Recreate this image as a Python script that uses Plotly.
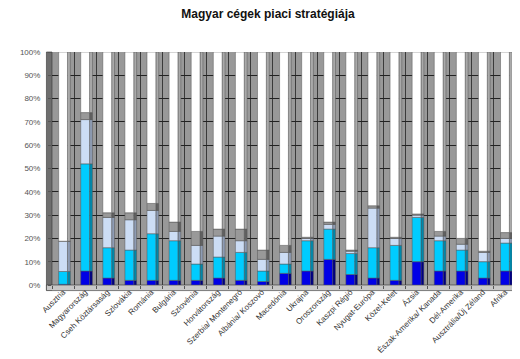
import plotly.graph_objects as go

categories = ["Ausztria", "Magyarország", "Cseh Köztársaság", "Szlovákia", "Románia",
              "Bulgária", "Szlovénia", "Horvátország", "Szerbia/ Montenegró",
              "Albánia/ Koszovó", "Macedónia", "Ukrajna", "Oroszország", "Kaszpi Régió",
              "Nyugat-Európa", "Közel-Kelet", "Ázsia", "Észak-Amerika/ Kanada",
              "Dél-Amerika", "Ausztrália/Új Zéland", "Afrika"]

s_dark  = [0.3, 6, 3, 2, 2, 2, 2, 3, 2, 1.5, 5, 6, 11, 4.5, 3, 2, 10, 6, 6, 3, 6]
s_cyan  = [5.5, 46, 13, 13, 20, 17, 7, 9, 12, 4.5, 4, 13, 13, 9, 13, 15, 19, 13, 9, 7, 12]
s_light = [13, 19, 13, 13, 10, 4, 8, 9, 5, 5, 5, 1, 2, 1, 17, 3, 1, 2, 2.5, 4, 2]
s_gray  = [0, 3, 2, 3, 3, 4, 6, 3, 5, 4, 3, 0.5, 1, 0.5, 1, 0.5, 0.5, 2, 2.5, 0.5, 2.5]
s_white = [81.2, 26, 69, 69, 65, 73, 77, 76, 76, 85, 83, 79.5, 73, 85, 66, 79.5, 69.5, 77, 80, 85.5, 77.5]

y_ticks = [0, 10, 20, 30, 40, 50, 60, 70, 80, 90, 100]
y_tick_labels = ["0%", "10%", "20%", "30%", "40%", "50%", "60%", "70%", "80%", "90%", "100%"]

series = [s_dark, s_cyan, s_light, s_gray, s_white]
front_cols = ["#0000E6", "#00CCFF", "#CCDDF5", "#999999", "#FFFFFF"]
side_cols = ["#000080", "#0088AA", "#8E9CB4", "#606060", "#AAAAAA"]

bases = []
acc = [0.0] * len(categories)
for vals in series:
    bases.append(list(acc))
    acc = [p + v for p, v in zip(acc, vals)]

fig = go.Figure()
for vals, b, sc in zip(series, bases, side_cols):
    fig.add_trace(go.Bar(x=categories, y=vals, base=b,
                         marker=dict(color=sc, line=dict(color="#555555", width=0.5)),
                         width=0.13, offset=0.2, showlegend=False, hoverinfo="skip"))
for vals, b, fc in zip(series, bases, front_cols):
    fig.add_trace(go.Bar(x=categories, y=vals, base=b,
                         marker=dict(color=fc, line=dict(color="#555555", width=0.5)),
                         width=0.4, offset=-0.2, showlegend=False, hoverinfo="skip"))

fig.update_layout(
    width=520, height=359,
    barmode="overlay",
    paper_bgcolor="white",
    plot_bgcolor="#999999",
    margin=dict(l=41, r=12, t=44, b=73),
    font=dict(family="Liberation Sans, Arial, sans-serif", size=8, color="#333333"),
    title=dict(text="<b>Magyar cégek piaci stratégiája</b>", x=0.5, xanchor="center", y=0.995, yanchor="top",
               font=dict(size=12, color="#111111")),
    xaxis=dict(tickangle=-45, tickson="boundaries", showgrid=True, gridcolor="#3a3a3a", gridwidth=1,
               ticks="outside", ticklen=3, tickcolor="#555555", showline=False,
               tickfont=dict(size=8, color="#333333")),
    yaxis=dict(range=[0, 100], tickvals=y_ticks, ticktext=y_tick_labels, showgrid=True, gridcolor="#222222",
               gridwidth=1, zeroline=False, ticks="outside", ticklen=3, tickcolor="#555555",
               ticklabelstandoff=6, tickfont=dict(size=8, color="#555555")),
    shapes=[
        dict(type="rect", xref="paper", yref="paper", x0=-0.012, x1=0, y0=-0.022, y1=1.0,
             fillcolor="#6e6e6e", line=dict(color="#333333", width=0.6), layer="below"),
        dict(type="rect", xref="paper", yref="paper", x0=-0.012, x1=1.012, y0=-0.024, y1=0,
             fillcolor="#C8C8C8", line=dict(color="#333333", width=0.6), layer="below"),
        dict(type="rect", xref="paper", yref="paper", x0=1.0, x1=1.012, y0=-0.024, y1=1.0,
             fillcolor="#B0B0B0", line=dict(color="#333333", width=0.6), layer="below"),
    ],
)

fig.write_html("out.html")
